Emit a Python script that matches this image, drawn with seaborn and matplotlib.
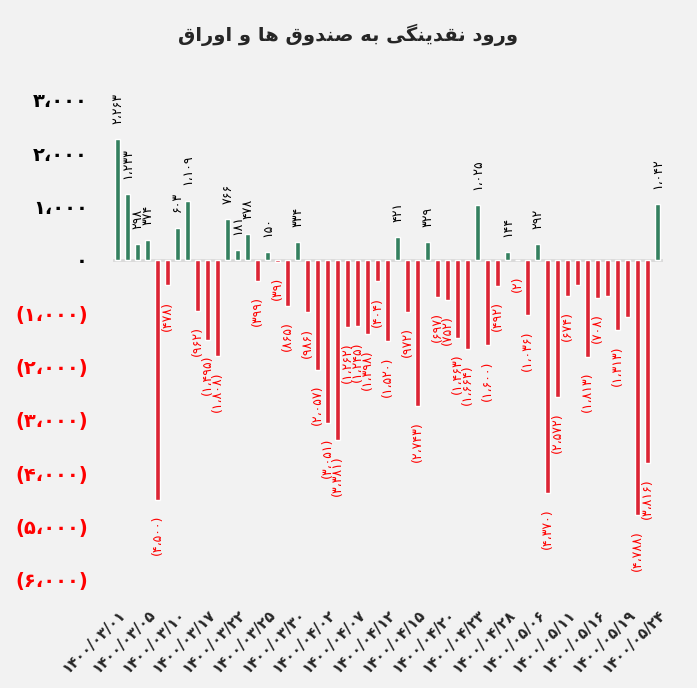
import numpy as np
import pandas as pd
import matplotlib
matplotlib.use("Agg")
import matplotlib.pyplot as plt
import seaborn as sns

sns.set_style("white")
plt.rcParams['font.family'] = ['DejaVu Sans']

# داده ها
title = "ورود نقدینگی به صندوق ها و اوراق"
tick_dates = ["1400/03/01", "1400/03/05", "1400/03/10", "1400/03/17", "1400/03/22",
              "1400/03/25", "1400/03/30", "1400/04/02", "1400/04/07", "1400/04/12",
              "1400/04/15", "1400/04/20", "1400/04/23", "1400/04/28", "1400/05/06",
              "1400/05/11", "1400/05/16", "1400/05/19", "1400/05/24"]
values = [2263, 1233, 298, 374, -4500, -478, 603, 1109, -962, -1495,
          -1808, 766, 181, 478, -399, 150, -39, -865, 334, -986,
          -2057, -3051, -3381, -1262, -1245, -1398, -404, -1520, 421, -972,
          -2743, 329, -697, -752, -1463, -1664, 1025, -1600, -492, 144,
          -2, -1036, 292, -4370, -2572, -674, -480, -1813, -708, -670,
          -1313, -1070, -4788, -3816, 1042]
hidden_labels = [46, 49, 51]
y_ticks = [3000, 2000, 1000, 0, -1000, -2000, -3000, -4000, -5000, -6000]

green = "#34805F"
red = "#DC2434"
bg = "#F2F2F2"

# شکل دهی حروف فارسی (matplotlib اتصال حروف را انجام نمی دهد)
FORMS = {
    'ا': '\ufe8d\ufe8e', 'د': '\ufea9\ufeaa', 'ر': '\ufead\ufeae', 'و': '\ufeed\ufeee',
    'ب': '\ufe8f\ufe90\ufe91\ufe92', 'ص': '\ufeb9\ufeba\ufebb\ufebc',
    'ق': '\ufed5\ufed6\ufed7\ufed8', 'ن': '\ufee5\ufee6\ufee7\ufee8',
    'ه': '\ufee9\ufeea\ufeeb\ufeec', 'ی': '\ufbfc\ufbfd\ufbfe\ufbff',
    'ي': '\ufef1\ufef2\ufef3\ufef4', 'گ': '\ufb92\ufb93\ufb94\ufb95',
}


def shape_fa(text):
    out = []
    for i, ch in enumerate(text):
        f = FORMS.get(ch)
        if f is None:
            out.append(ch)
            continue
        prev = text[i - 1] if i > 0 else ''
        nxt = text[i + 1] if i + 1 < len(text) else ''
        join_prev = len(FORMS.get(prev, '')) == 4
        join_next = len(f) == 4 and nxt in FORMS
        out.append(f[int(join_prev) + 2 * int(join_next)])
    return ''.join(reversed(out))


FA_DIGITS = str.maketrans("0123456789", "۰۱۲۳۴۵۶۷۸۹")


def fa_num(v):
    s = f"{abs(v):,}".replace(",", "،").translate(FA_DIGITS)
    return f"({s})" if v < 0 else s


df = pd.DataFrame({"idx": range(len(values)), "value": values})
df["sign"] = np.where(df["value"] >= 0, "pos", "neg")

fig = plt.figure(figsize=(6.97, 6.88), dpi=100, facecolor=bg)
ax = fig.add_axes([0.1617, 0.1185, 0.7891, 0.775])
ax.set_facecolor(bg)

sns.barplot(data=df, x="idx", y="value", hue="sign",
            palette={"pos": green, "neg": red}, width=0.5, dodge=False,
            saturation=1, legend=False, ax=ax)

ax.set_xlim(-0.5, len(values) - 0.5)
ax.set_ylim(-6500, 3500)
ax.axhline(0, color="#D9D9D9", lw=2, zorder=0)
for s in ax.spines.values():
    s.set_visible(False)

# محور عمودی
ax.set_yticks(y_ticks)
ax.set_yticklabels([fa_num(t) for t in y_ticks], fontsize=14, fontweight="bold")
for lbl, t in zip(ax.get_yticklabels(), y_ticks):
    lbl.set_color("red" if t < 0 else "black")

# محور افقی
ax.set_xticks(range(0, len(values), 3))
ax.set_xticklabels([d.translate(FA_DIGITS) for d in tick_dates], rotation=45,
                   ha="right", rotation_mode="anchor", fontsize=10.5, fontweight="bold")
ax.tick_params(axis="both", length=0)
ax.tick_params(axis="y", pad=18)
ax.tick_params(axis="x", pad=0)
ax.set_xlabel("")
ax.set_ylabel("")

# برچسب مقادیر
for i, v in enumerate(values):
    if i in hidden_labels:
        continue
    ax.annotate(fa_num(v), (i, v),
                xytext=(0, 11 if v >= 0 else -11), textcoords="offset points",
                rotation=90, ha="center", va="bottom" if v >= 0 else "top",
                fontsize=9, color="black" if v >= 0 else "red")

fig.text(0.5, 1 - 35 / 688, shape_fa(title), ha="center", va="center",
         fontsize=14, fontweight="bold")

plt.savefig("out.png", dpi=100, facecolor=bg)
